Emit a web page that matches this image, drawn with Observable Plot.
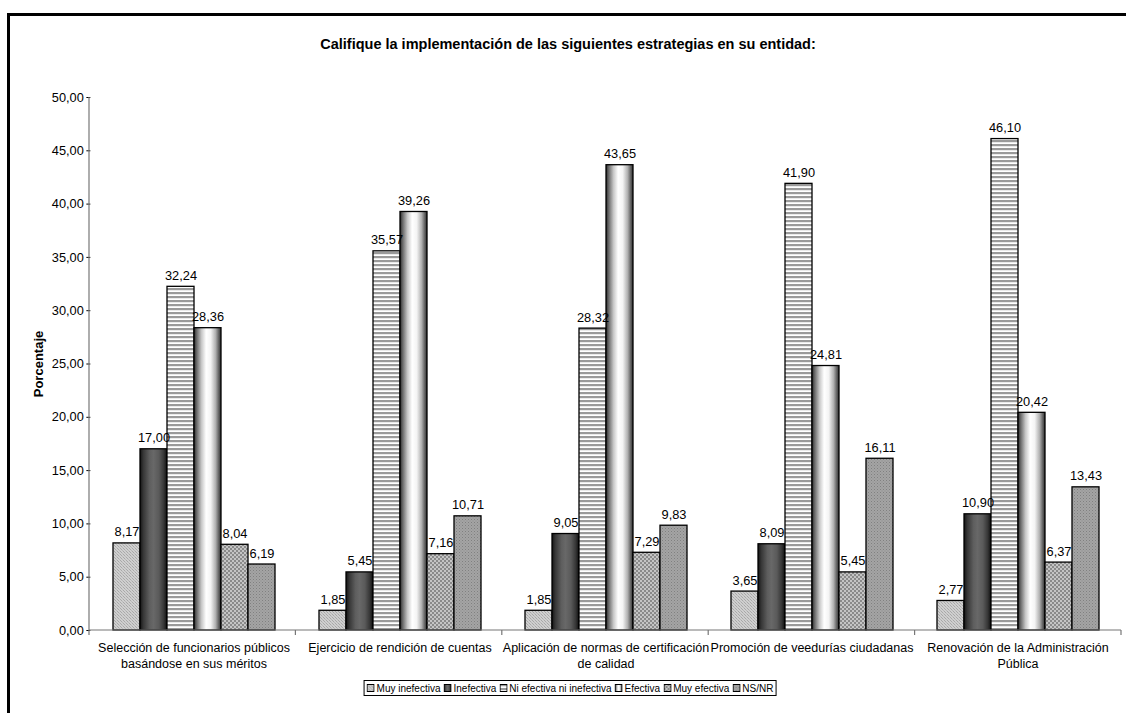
<!DOCTYPE html>
<html>
<head>
<meta charset="utf-8">
<script src="https://cdn.jsdelivr.net/npm/d3@7"></script>
<script src="https://cdn.jsdelivr.net/npm/@observablehq/plot@0.6"></script>
<style>
  html, body { margin: 0; padding: 0; background: #fff; }
  body { font-family: "Liberation Sans", Arial, sans-serif; }
  #wrap { position: relative; width: 1126px; height: 713px; overflow: hidden; }
  #frame { position: absolute; left: 7px; top: 13px; width: 1140px; height: 730px; border: 3px solid #000; box-sizing: border-box; }
  #title { position: absolute; top: 36px; left: 0; width: 1136px; text-align: center; font-weight: bold; font-size: 14.5px; color: #000; }
  #ylabel { position: absolute; left: 38px; top: 364px; transform: translate(-50%, -50%) rotate(-90deg); font-weight: bold; font-size: 13px; white-space: nowrap; }
  #chart { position: absolute; left: 0; top: 0; }
  #legend { position: absolute; top: 680px; left: 570px; transform: translateX(-50%); border: 1px solid #000; height: 14px; display: flex; align-items: center; padding: 0 2px; font-size: 10px; white-space: nowrap; background: #fff; }
  #legend .item { display: flex; align-items: center; margin-right: 3px; }
  #legend .item:last-child { margin-right: 0; }
  #legend svg { display: block; margin-right: 2px; }
</style>
</head>
<body>
<div id="wrap">
  <div id="frame"></div>
  <div id="chart"></div>
  <div id="title">Califique la implementación de las siguientes estrategias en su entidad:</div>
  <div id="ylabel">Porcentaje</div>
  <div id="legend"></div>
</div>
<script>
const categories = [
  "Selección de funcionarios públicos\nbasándose en sus méritos",
  "Ejercicio de rendición de cuentas",
  "Aplicación de normas de certificación\nde calidad",
  "Promoción de veedurías ciudadanas",
  "Renovación de la Administración\nPública"
];
const series = ["Muy inefectiva", "Inefectiva", "Ni efectiva ni inefectiva", "Efectiva", "Muy efectiva", "NS/NR"];
const muyInefectiva = [8.17, 1.85, 1.85, 3.65, 2.77];
const inefectiva = [17.00, 5.45, 9.05, 8.09, 10.90];
const niEfectiva = [32.24, 35.57, 28.32, 41.90, 46.10];
const efectiva = [28.36, 39.26, 43.65, 24.81, 20.42];
const muyEfectiva = [8.04, 7.16, 7.29, 5.45, 6.37];
const nsnr = [6.19, 10.71, 9.83, 16.11, 13.43];
const yTicks = [0, 5, 10, 15, 20, 25, 30, 35, 40, 45, 50];

const seriesValues = [muyInefectiva, inefectiva, niEfectiva, efectiva, muyEfectiva, nsnr];
const data = [];
categories.forEach((c, ci) => {
  series.forEach((s, si) => {
    data.push({cat: c, serie: s, value: seriesValues[si][ci]});
  });
});

const patternIds = series.map((s, i) => `url(#pat${i})`);
const fmt = v => v.toFixed(2).replace(".", ",");

const plot = Plot.plot({
  width: 1126,
  height: 713,
  marginTop: 97,
  marginBottom: 83,
  marginLeft: 89,
  marginRight: 5,
  style: { background: "transparent", fontSize: "12.8px", fontFamily: "Liberation Sans, Arial, sans-serif", color: "#000" },
  fx: { domain: categories, paddingInner: 0.2, paddingOuter: 0.1, axis: null, label: null },
  x: { domain: series, paddingInner: 0, paddingOuter: 0, axis: null, label: null },
  y: { domain: [0, 50], ticks: yTicks, tickFormat: fmt, tickSize: 4, tickPadding: 3, label: null, grid: false },
  color: { domain: series, range: patternIds },
  marks: [
    Plot.barY(data, { fx: "cat", x: "serie", y: "value", fill: "serie", stroke: "#000", strokeWidth: 1.3 }),
    Plot.text(data, { fx: "cat", x: "serie", y: "value", text: d => fmt(d.value), dy: -7, lineAnchor: "bottom", fontSize: 12.8, fill: "#000" }),
    Plot.text(categories, { fx: d => d, text: d => d, frameAnchor: "bottom", lineAnchor: "top", dy: 10, fontSize: 12.5, lineHeight: 1.28, fill: "#000" })
  ]
});
document.getElementById("chart").appendChild(plot);

const svg = d3.select(plot.tagName.toLowerCase() === "svg" ? plot : plot.querySelector("svg"));
const defs = svg.insert("defs", ":first-child");

// Muy inefectiva: light gray fine texture
const p0 = defs.append("pattern").attr("id", "pat0").attr("patternUnits", "userSpaceOnUse").attr("width", 3).attr("height", 3);
p0.append("rect").attr("width", 3).attr("height", 3).attr("fill", "#cfcfcf");
p0.append("rect").attr("x", 0).attr("y", 0).attr("width", 1).attr("height", 1).attr("fill", "#a8a8a8");
p0.append("rect").attr("x", 1).attr("y", 1).attr("width", 1).attr("height", 1).attr("fill", "#b8b8b8");
p0.append("rect").attr("x", 2).attr("y", 2).attr("width", 1).attr("height", 1).attr("fill", "#a8a8a8");

// Inefectiva: dark cylinder gradient
const g1 = defs.append("linearGradient").attr("id", "pat1").attr("x1", 0).attr("x2", 1).attr("y1", 0).attr("y2", 0);
[[0, "#141414"], [0.12, "#363636"], [0.35, "#5e5e5e"], [0.5, "#686868"], [0.7, "#5a5a5a"], [0.88, "#363636"], [1, "#0e0e0e"]]
  .forEach(([o, c]) => g1.append("stop").attr("offset", o).attr("stop-color", c));

// Ni efectiva ni inefectiva: horizontal stripes
const p2 = defs.append("pattern").attr("id", "pat2").attr("patternUnits", "userSpaceOnUse").attr("width", 4).attr("height", 4);
p2.append("rect").attr("width", 4).attr("height", 4).attr("fill", "#ffffff");
p2.append("rect").attr("y", 0).attr("width", 4).attr("height", 2.2).attr("fill", "#9a9a9a");

// Efectiva: white cylinder gradient
const g3 = defs.append("linearGradient").attr("id", "pat3").attr("x1", 0).attr("x2", 1).attr("y1", 0).attr("y2", 0);
[[0, "#2a2a2a"], [0.1, "#6a6a6a"], [0.28, "#c8c8c8"], [0.45, "#ffffff"], [0.62, "#f4f4f4"], [0.8, "#b0b0b0"], [0.92, "#606060"], [1, "#303030"]]
  .forEach(([o, c]) => g3.append("stop").attr("offset", o).attr("stop-color", c));

// Muy efectiva: checker texture
const p4 = defs.append("pattern").attr("id", "pat4").attr("patternUnits", "userSpaceOnUse").attr("width", 4).attr("height", 4);
p4.append("rect").attr("width", 4).attr("height", 4).attr("fill", "#c4c4c4");
p4.append("rect").attr("x", 0).attr("y", 0).attr("width", 2).attr("height", 2).attr("fill", "#8a8a8a");
p4.append("rect").attr("x", 2).attr("y", 2).attr("width", 2).attr("height", 2).attr("fill", "#8a8a8a");

// NS/NR: medium gray dotted
const p5 = defs.append("pattern").attr("id", "pat5").attr("patternUnits", "userSpaceOnUse").attr("width", 3).attr("height", 3);
p5.append("rect").attr("width", 3).attr("height", 3).attr("fill", "#a4a4a4");
p5.append("rect").attr("x", 0).attr("y", 0).attr("width", 1).attr("height", 1).attr("fill", "#808080");
p5.append("rect").attr("x", 1.5).attr("y", 1.5).attr("width", 1).attr("height", 1).attr("fill", "#8c8c8c");

// Axis lines built from the plot's own scales
const fxD = plot.scale("fx");
const yD = plot.scale("y");
const fxScale = d3.scaleBand().domain(fxD.domain).range(fxD.range)
  .paddingInner(fxD.paddingInner ?? 0.2).paddingOuter(fxD.paddingOuter ?? 0.1);
const yScale = d3.scaleLinear().domain(yD.domain).range(yD.range);
const step = fxScale.step();
const pi = fxScale.paddingInner();
const bounds = fxD.domain.map(c => fxScale(c) - step * pi / 2);
bounds.push(fxScale(fxD.domain[fxD.domain.length - 1]) + fxScale.bandwidth() + step * pi / 2);
const y0 = yScale(0), yTop = yScale(50);

// Move Plot's y axis (drawn at the first facet's edge) to the category axis start
const shift = bounds[0] - fxScale(fxD.domain[0]);
svg.selectAll("g[aria-label^='y-axis']").each(function() {
  const t = this.getAttribute("transform") || "";
  this.setAttribute("transform", `translate(${shift},0) ${t}`);
});

const ax = svg.append("g").attr("stroke", "#777").attr("stroke-width", 1.2).attr("fill", "none");
ax.append("line").attr("x1", bounds[0]).attr("x2", bounds[0]).attr("y1", yTop).attr("y2", y0);
ax.append("line").attr("x1", bounds[0]).attr("x2", bounds[bounds.length - 1]).attr("y1", y0).attr("y2", y0);
bounds.forEach(b => ax.append("line").attr("x1", b).attr("x2", b).attr("y1", y0).attr("y2", y0 + 5));

// Legend
const legend = d3.select("#legend");
series.forEach((s, i) => {
  const it = legend.append("div").attr("class", "item");
  const sw = it.append("svg").attr("width", 8).attr("height", 8);
  sw.append("rect").attr("x", 0.5).attr("y", 0.5).attr("width", 7).attr("height", 7)
    .attr("fill", patternIds[i]).attr("stroke", "#000").attr("stroke-width", 1);
  it.append("span").text(s);
});
</script>
</body>
</html>
